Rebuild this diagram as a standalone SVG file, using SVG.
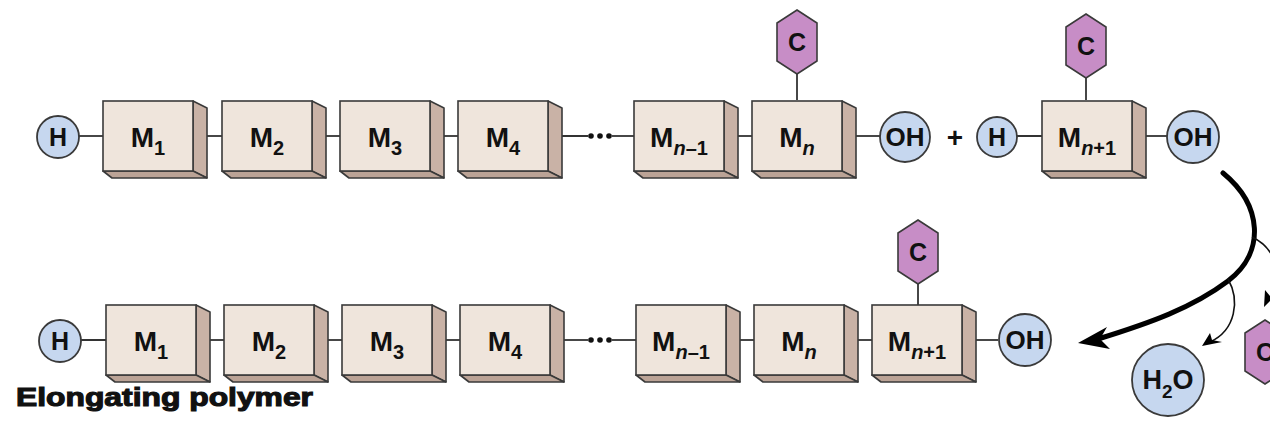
<svg xmlns="http://www.w3.org/2000/svg" width="1270" height="438" viewBox="0 0 1270 438">
<style>
.front{fill:#efe5dc;stroke:#3a3a3a;stroke-width:1.6}
.side{fill:#c9b2a6;stroke:#3a3a3a;stroke-width:1.6;stroke-linejoin:round}
.bottom{fill:#bba396;stroke:#3a3a3a;stroke-width:1.6;stroke-linejoin:round}
.circ{fill:#c6d7ef;stroke:#3a3a3a;stroke-width:1.8}
.hex{fill:#c78dc6;stroke:#3a3a3a;stroke-width:1.6}
.lbl{font-family:"Liberation Sans",Arial,sans-serif;font-weight:bold;fill:#111}
.m{font-size:28px}
.sub{font-size:20px}
.it{font-style:italic}
.g{font-size:25px}
.oh{font-size:26px}
.link{stroke:#333;stroke-width:1.8;fill:none}
.thin{stroke:#111;stroke-width:1.6;fill:none}
</style>
<defs>
<g id="box">
<polygon class="side" points="90,0 104,7 104,77 90,70"/>
<polygon class="bottom" points="0,70 90,70 104,77 9,77"/>
<rect class="front" x="0" y="0" width="90" height="70"/>
</g>
<polygon id="hexs" class="hex" points="0,-32 20,-19 20,19 0,32 -20,19 -20,-19"/>
</defs>

<!-- connectors -->
<g id="connectors">
<line class="link" x1="79" y1="136" x2="111" y2="136"/>
<line class="link" x1="200" y1="136" x2="230" y2="136"/>
<line class="link" x1="319" y1="136" x2="348" y2="136"/>
<line class="link" x1="437" y1="136" x2="466" y2="136"/>
<line class="link" x1="555" y1="136" x2="588" y2="136"/>
<line class="link" x1="612" y1="136" x2="642" y2="136"/>
<line class="link" x1="732" y1="136" x2="760" y2="136"/>
<line class="link" x1="850" y1="136" x2="880" y2="136"/>
<line class="link" x1="797" y1="74" x2="797" y2="100"/>
<line class="link" x1="1017" y1="136" x2="1050" y2="136"/>
<line class="link" x1="1138" y1="136" x2="1167" y2="136"/>
<line class="link" x1="1086" y1="78" x2="1086" y2="100"/>

<line class="link" x1="81" y1="340" x2="114" y2="340"/>
<line class="link" x1="203" y1="340" x2="232" y2="340"/>
<line class="link" x1="321" y1="340" x2="350" y2="340"/>
<line class="link" x1="439" y1="340" x2="468" y2="340"/>
<line class="link" x1="558" y1="340" x2="588" y2="340"/>
<line class="link" x1="612" y1="340" x2="644" y2="340"/>
<line class="link" x1="734" y1="340" x2="762" y2="340"/>
<line class="link" x1="852" y1="340" x2="880" y2="340"/>
<line class="link" x1="970" y1="340" x2="998" y2="340"/>
<line class="link" x1="918" y1="280" x2="918" y2="305"/>

<!-- reaction arrows -->
<path d="M1223,173 C1262,205 1266,252 1228,281 C1192,308 1150,323 1098,339" stroke="#000" stroke-width="5" fill="none" stroke-linecap="round"/>
<polygon points="1078,343 1107,327 1100,339 1110,349" fill="#000"/>
<path class="thin" d="M1228,279 C1240,300 1236,330 1210,342"/>
<polygon points="1202,346 1210,333 1212,340 1222,342" fill="#000"/>
<path class="thin" d="M1252,237 C1275,248 1285,275 1270,298"/>
<polygon points="1264,307 1265,290 1270,296 1277,294" fill="#000"/>
</g>

<!-- top row -->
<g id="t_h"><circle class="circ" cx="58" cy="137" r="21"/><text class="lbl g" x="58" y="146" text-anchor="middle">H</text></g>
<g id="t_m1"><use href="#box" x="103" y="101"/><text class="lbl m" x="148" y="147" text-anchor="middle">M<tspan class="sub" dy="8">1</tspan></text></g>
<g id="t_m2"><use href="#box" x="222" y="101"/><text class="lbl m" x="267" y="147" text-anchor="middle">M<tspan class="sub" dy="8">2</tspan></text></g>
<g id="t_m3"><use href="#box" x="340" y="101"/><text class="lbl m" x="385" y="147" text-anchor="middle">M<tspan class="sub" dy="8">3</tspan></text></g>
<g id="t_m4"><use href="#box" x="458" y="101"/><text class="lbl m" x="503" y="147" text-anchor="middle">M<tspan class="sub" dy="8">4</tspan></text></g>
<g id="t_dots"><circle cx="591" cy="136" r="2.8" fill="#111"/><circle cx="600" cy="136" r="2.8" fill="#111"/><circle cx="609" cy="136" r="2.8" fill="#111"/></g>
<g id="t_mn1"><use href="#box" x="634" y="101"/><text class="lbl m" x="679" y="147" text-anchor="middle">M<tspan class="sub it" dy="8">n</tspan><tspan class="sub">–1</tspan></text></g>
<g id="t_mn"><use href="#box" x="752" y="101"/><text class="lbl m" x="797" y="147" text-anchor="middle">M<tspan class="sub it" dy="8">n</tspan></text></g>
<g id="t_cn"><use href="#hexs" x="797" y="42"/><text class="lbl g" x="797" y="51" text-anchor="middle">C</text></g>
<g id="t_oh"><circle class="circ" cx="905" cy="137" r="25"/><text class="lbl oh" x="905" y="146" text-anchor="middle">OH</text></g>
<g id="t_plus"><text class="lbl m" x="955" y="147" text-anchor="middle">+</text></g>
<g id="t_h2"><circle class="circ" cx="997" cy="137" r="20"/><text class="lbl g" x="997" y="146" text-anchor="middle">H</text></g>
<g id="t_mnp1"><use href="#box" x="1042" y="101"/><text class="lbl m" x="1087" y="147" text-anchor="middle">M<tspan class="sub it" dy="8">n</tspan><tspan class="sub">+1</tspan></text></g>
<g id="t_cnp1"><use href="#hexs" x="1086" y="46"/><text class="lbl g" x="1086" y="55" text-anchor="middle">C</text></g>
<g id="t_oh2"><circle class="circ" cx="1193" cy="137" r="26"/><text class="lbl oh" x="1193" y="146" text-anchor="middle">OH</text></g>

<!-- bottom row -->
<g id="b_h"><circle class="circ" cx="60" cy="341" r="21"/><text class="lbl g" x="60" y="350" text-anchor="middle">H</text></g>
<g id="b_m1"><use href="#box" x="106" y="305"/><text class="lbl m" x="151" y="351" text-anchor="middle">M<tspan class="sub" dy="8">1</tspan></text></g>
<g id="b_m2"><use href="#box" x="224" y="305"/><text class="lbl m" x="269" y="351" text-anchor="middle">M<tspan class="sub" dy="8">2</tspan></text></g>
<g id="b_m3"><use href="#box" x="342" y="305"/><text class="lbl m" x="387" y="351" text-anchor="middle">M<tspan class="sub" dy="8">3</tspan></text></g>
<g id="b_m4"><use href="#box" x="460" y="305"/><text class="lbl m" x="505" y="351" text-anchor="middle">M<tspan class="sub" dy="8">4</tspan></text></g>
<g id="b_dots"><circle cx="591" cy="340" r="2.8" fill="#111"/><circle cx="600" cy="340" r="2.8" fill="#111"/><circle cx="609" cy="340" r="2.8" fill="#111"/></g>
<g id="b_mn1"><use href="#box" x="636" y="305"/><text class="lbl m" x="681" y="351" text-anchor="middle">M<tspan class="sub it" dy="8">n</tspan><tspan class="sub">–1</tspan></text></g>
<g id="b_mn"><use href="#box" x="754" y="305"/><text class="lbl m" x="799" y="351" text-anchor="middle">M<tspan class="sub it" dy="8">n</tspan></text></g>
<g id="b_mnp1"><use href="#box" x="872" y="305"/><text class="lbl m" x="917" y="351" text-anchor="middle">M<tspan class="sub it" dy="8">n</tspan><tspan class="sub">+1</tspan></text></g>
<g id="b_c"><use href="#hexs" x="918" y="252"/><text class="lbl g" x="918" y="261" text-anchor="middle">C</text></g>
<g id="b_oh"><circle class="circ" cx="1025" cy="340" r="26"/><text class="lbl oh" x="1025" y="349" text-anchor="middle">OH</text></g>

<!-- products -->
<g id="water"><circle class="circ" cx="1168" cy="380" r="36"/><text class="lbl" x="1168" y="389" text-anchor="middle" font-size="27">H<tspan font-size="19" dy="9">2</tspan><tspan dy="-9">O</tspan></text></g>
<g id="c_out"><use href="#hexs" x="1265" y="352"/><text class="lbl g" x="1265" y="361" text-anchor="middle">C</text></g>

<g id="title"><text class="lbl" x="16" y="406" font-size="25" textLength="297" lengthAdjust="spacingAndGlyphs" stroke="#111" stroke-width="1.1">Elongating polymer</text></g>
</svg>
